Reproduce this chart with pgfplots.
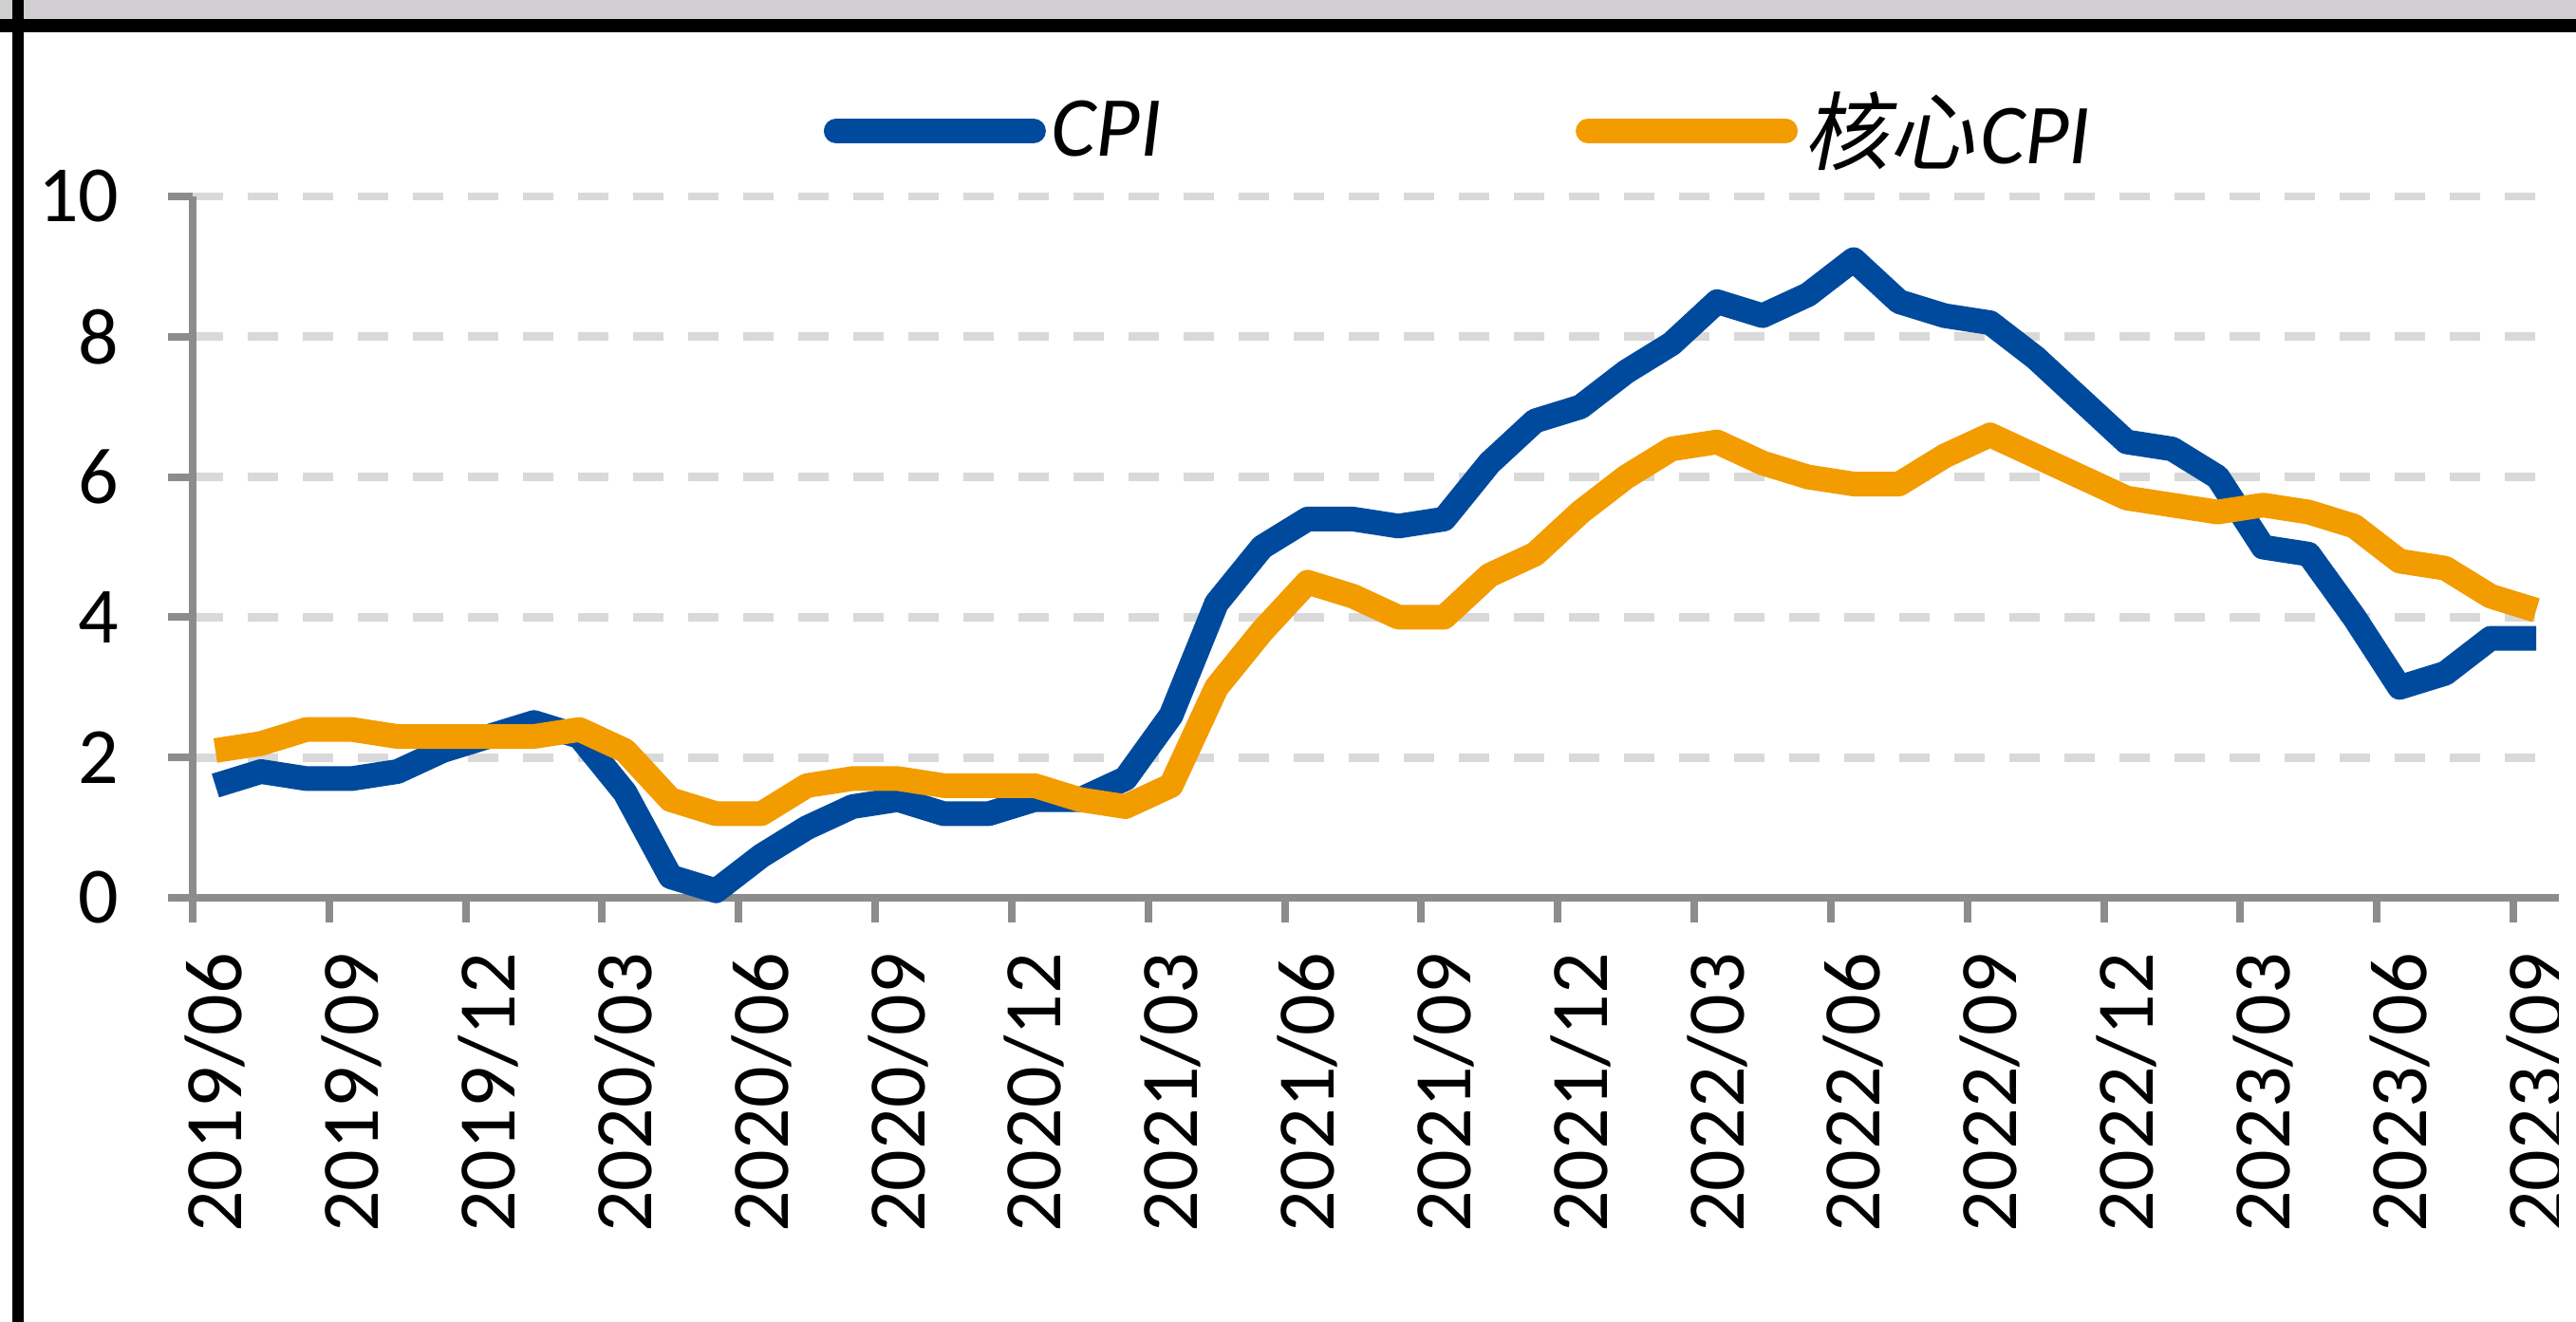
\documentclass[border=0pt]{standalone}
\usepackage{pgfplots}
\pgfplotsset{compat=1.18}
\usepackage{fontspec}
\setmainfont{Carlito}
\newfontfamily\cjk[FakeSlant=0.2]{Noto Sans CJK SC}
\definecolor{cpiblue}{HTML}{004A9E}
\definecolor{coreorange}{HTML}{F29C00}
\definecolor{axgray}{HTML}{8C8C8C}
\definecolor{gridgray}{HTML}{D9D9D9}
\definecolor{barGray}{HTML}{D0CED0}
\begin{document}
\begin{tikzpicture}
\useasboundingbox (0,0) rectangle (678.5pt,-348.25pt);
\fill[barGray] (0,0) rectangle (678.5pt,-5pt);
\fill[black] (0,-5pt) rectangle (678.5pt,-8.5pt);
\begin{axis}[
  at={(50.75pt,-236.5pt)}, anchor=south west,
  scale only axis, width=623.25pt, height=184.75pt,
  xmin=-0.5, xmax=51.5, ymin=0, ymax=10,
  clip=false,
  axis x line=bottom, axis y line=left,
  axis line style={-, draw=axgray, line width=2pt},
  tick align=outside,
  major tick length=6.5pt,
  tick style={draw=axgray, line width=2pt},
  ytick={0,2,4,6,8,10},
  xtick={-0.5,2.5,...,50.5}, xticklabels={},
  extra x ticks={0,3,...,51},
  extra x tick labels={2019/06,2019/09,2019/12,2020/03,2020/06,2020/09,2020/12,2021/03,2021/06,2021/09,2021/12,2022/03,2022/06,2022/09,2022/12,2023/03,2023/06,2023/09},
  extra x tick style={grid=none, major tick length=0pt},
  ymajorgrids,
  grid style={draw=gridgray, line width=2.2pt, dash pattern=on 8pt off 6.5pt},
  /pgf/number format/assume math mode=true,
  yticklabel style={font=\fontsize{21}{25}\selectfont, anchor=east, inner sep=12.75pt},
  xticklabel style={font=\fontsize{21.5}{25}\selectfont, rotate=90, anchor=east, inner sep=14.3pt},
  legend columns=2,
  legend style={at={(0.2664,1.0934)}, anchor=west, draw=none, fill=none, inner sep=0pt,
    font=\fontsize{22.5}{26}\selectfont, nodes={inner sep=0pt},
    /tikz/every odd column/.append style={column sep=1.5pt},
    /tikz/every even column/.append style={column sep=109pt}},
  legend image code/.code={\draw[#1, line cap=round] (0pt,0pt) -- (52pt,0pt);},
]
\addplot[cpiblue, line width=6.5pt, line join=round] coordinates {
(0,1.6)(1,1.8)(2,1.7)(3,1.7)(4,1.8)(5,2.1)(6,2.3)(7,2.5)(8,2.3)(9,1.5)
(10,0.3)(11,0.1)(12,0.6)(13,1.0)(14,1.3)(15,1.4)(16,1.2)(17,1.2)(18,1.4)(19,1.4)
(20,1.7)(21,2.6)(22,4.2)(23,5.0)(24,5.4)(25,5.4)(26,5.3)(27,5.4)(28,6.2)(29,6.8)
(30,7.0)(31,7.5)(32,7.9)(33,8.5)(34,8.3)(35,8.6)(36,9.1)(37,8.5)(38,8.3)(39,8.2)
(40,7.7)(41,7.1)(42,6.5)(43,6.4)(44,6.0)(45,5.0)(46,4.9)(47,4.0)(48,3.0)(49,3.2)
(50,3.7)(51,3.7)};
\addlegendentry{\textit{CPI}}
\addplot[coreorange, line width=6.5pt, line join=round] coordinates {
(0,2.1)(1,2.2)(2,2.4)(3,2.4)(4,2.3)(5,2.3)(6,2.3)(7,2.3)(8,2.4)(9,2.1)
(10,1.4)(11,1.2)(12,1.2)(13,1.6)(14,1.7)(15,1.7)(16,1.6)(17,1.6)(18,1.6)(19,1.4)
(20,1.3)(21,1.6)(22,3.0)(23,3.8)(24,4.5)(25,4.3)(26,4.0)(27,4.0)(28,4.6)(29,4.9)
(30,5.5)(31,6.0)(32,6.4)(33,6.5)(34,6.2)(35,6.0)(36,5.9)(37,5.9)(38,6.3)(39,6.6)
(40,6.3)(41,6.0)(42,5.7)(43,5.6)(44,5.5)(45,5.6)(46,5.5)(47,5.3)(48,4.8)(49,4.7)
(50,4.3)(51,4.1)};
\addlegendentry{{\cjk 核心}\kern1.5pt\textit{CPI}}
\end{axis}
\fill[white] (674pt,-8.5pt) rectangle (678.5pt,-348.25pt);
\fill[black] (3.25pt,0pt) rectangle (6.25pt,-348.25pt);
\end{tikzpicture}
\end{document}
